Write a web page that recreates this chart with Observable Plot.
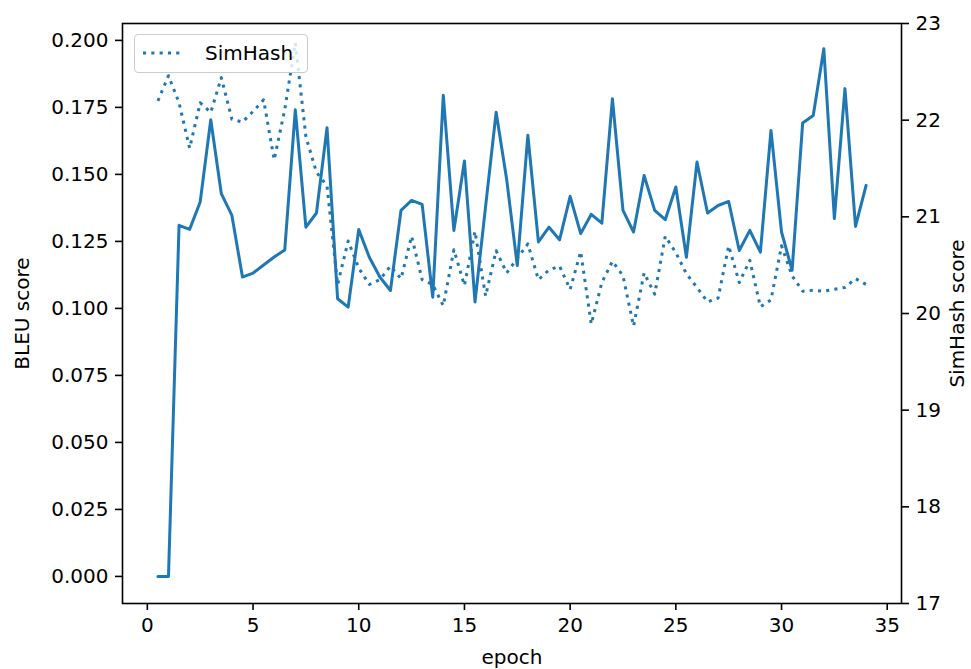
<!DOCTYPE html>
<html><head><meta charset="utf-8">
<script src="https://cdn.jsdelivr.net/npm/d3@7"></script>
<script src="https://cdn.jsdelivr.net/npm/@observablehq/plot@0.6"></script>
<style>
html,body{margin:0;padding:0;background:#fff;}
#chart{position:relative;width:971px;height:669px;font-family:"DejaVu Sans",sans-serif;}
#legend{position:absolute;left:134px;top:34px;width:174px;height:39px;box-sizing:border-box;border:1.5px solid #cccccc;border-radius:4px;background:rgba(255,255,255,0.8);}
#legend svg{position:absolute;left:0;top:0;}
#legend span{position:absolute;left:70px;top:6px;font-size:20px;line-height:24px;color:#000;}
</style></head><body><div id="chart"></div>
<script>
const epochs = [0.5,1,1.5,2,2.5,3,3.5,4,4.5,5,5.5,6,6.5,7,7.5,8,8.5,9,9.5,10,10.5,11,11.5,12,12.5,13,13.5,14,14.5,15,15.5,16,16.5,17,17.5,18,18.5,19,19.5,20,20.5,21,21.5,22,22.5,23,23.5,24,24.5,25,25.5,26,26.5,27,27.5,28,28.5,29,29.5,30,30.5,31,31.5,32,32.5,33,33.5,34];
const bleu = [0.000,0.000,0.131,0.1295,0.1397,0.1704,0.1428,0.1347,0.1117,0.1132,
 0.1162,0.1192,0.1218,0.1741,0.1303,0.1356,0.1674,0.1036,0.1005,0.1294,
 0.1191,0.1117,0.1067,0.1366,0.1403,0.1388,0.1042,0.1795,0.1291,0.1550,
 0.1024,0.1380,0.1732,0.1480,0.1160,0.1646,0.1248,0.1303,0.1256,0.1418,
 0.1279,0.1351,0.1318,0.1782,0.1366,0.1285,0.1496,0.1366,0.1331,0.1453,
 0.1191,0.1546,0.1356,0.1384,0.1399,0.1216,0.1291,0.1210,0.1664,0.1285,
 0.1142,0.1692,0.1720,0.1969,0.1335,0.1820,0.1306,0.1459];
const simhash = [22.20,22.46,22.18,21.71,22.18,22.08,22.44,22.01,21.98,22.09,
 22.21,21.59,22.11,22.80,21.83,21.46,21.32,20.30,20.75,20.47,
 20.30,20.35,20.49,20.36,20.80,20.35,20.30,20.08,20.66,20.29,
 20.85,20.18,20.65,20.42,20.57,20.72,20.35,20.45,20.49,20.25,
 20.64,19.89,20.32,20.54,20.39,19.87,20.42,20.20,20.80,20.63,
 20.41,20.27,20.12,20.16,20.70,20.32,20.55,20.07,20.14,20.70,
 20.39,20.23,20.24,20.23,20.25,20.27,20.36,20.30];
const xTicks = [0,5,10,15,20,25,30,35];
const bleuTicks = [0,0.025,0.05,0.075,0.1,0.125,0.15,0.175,0.2];
const simTicks = [17,18,19,20,21,22,23];
const xLabel = "epoch";
const bleuLabel = "BLEU score";
const simLabel = "SimHash score";
const legendLabel = "SimHash";

const data = epochs.map((e, i) => ({epoch: e, bleu: bleu[i], simhash: simhash[i]}));
const yDom = [-0.0101, 0.2063];
const simDom = [17, 23];
const toLeft = d3.scaleLinear(simDom, yDom);
const blue = "#1f77b4";

const plot = Plot.plot({
  width: 971, height: 669,
  marginLeft: 122, marginRight: 70, marginTop: 23, marginBottom: 66,
  style: {fontFamily: '"DejaVu Sans", sans-serif', fontSize: "20px", color: "#000", background: "#fff", overflow: "visible"},
  x: {domain: [-1.175, 35.675]},
  y: {domain: yDom},
  marks: [
    Plot.line(data, {x: "epoch", y: "bleu", stroke: blue, strokeWidth: 3}),
    Plot.line(data, {x: "epoch", y: d => toLeft(d.simhash), stroke: blue, strokeWidth: 3, strokeDasharray: "3.1,5.2", strokeLinecap: "butt"}),
    Plot.frame({stroke: "#000", strokeWidth: 1.6}),
    Plot.axisX({ticks: xTicks, tickSize: 7, tickPadding: 7, strokeWidth: 1.6, tickFormat: d => String(d),
      label: xLabel, labelAnchor: "center", labelArrow: "none", labelOffset: 60}),
    Plot.axisY({ticks: bleuTicks, tickSize: 7, tickPadding: 7, strokeWidth: 1.6, tickFormat: d3.format(".3f"),
      label: bleuLabel, labelAnchor: "center", labelArrow: "none", labelOffset: 108}),
    Plot.axisY({anchor: "right", ticks: simTicks.map(v => toLeft(v)), tickSize: 7, tickPadding: 7, strokeWidth: 1.6,
      tickFormat: v => String(Math.round(toLeft.invert(v))),
      label: simLabel, labelAnchor: "center", labelArrow: "none", labelOffset: 62})
  ]
});
const chart = document.getElementById("chart");
chart.appendChild(plot);

const legend = document.createElement("div");
legend.id = "legend";
legend.innerHTML = `<svg width="70" height="36"><line x1="8" x2="46" y1="18" y2="18" stroke="${blue}" stroke-width="3" stroke-dasharray="3.1,5.2"/></svg><span>${legendLabel}</span>`;
chart.appendChild(legend);
</script>
</body></html>
